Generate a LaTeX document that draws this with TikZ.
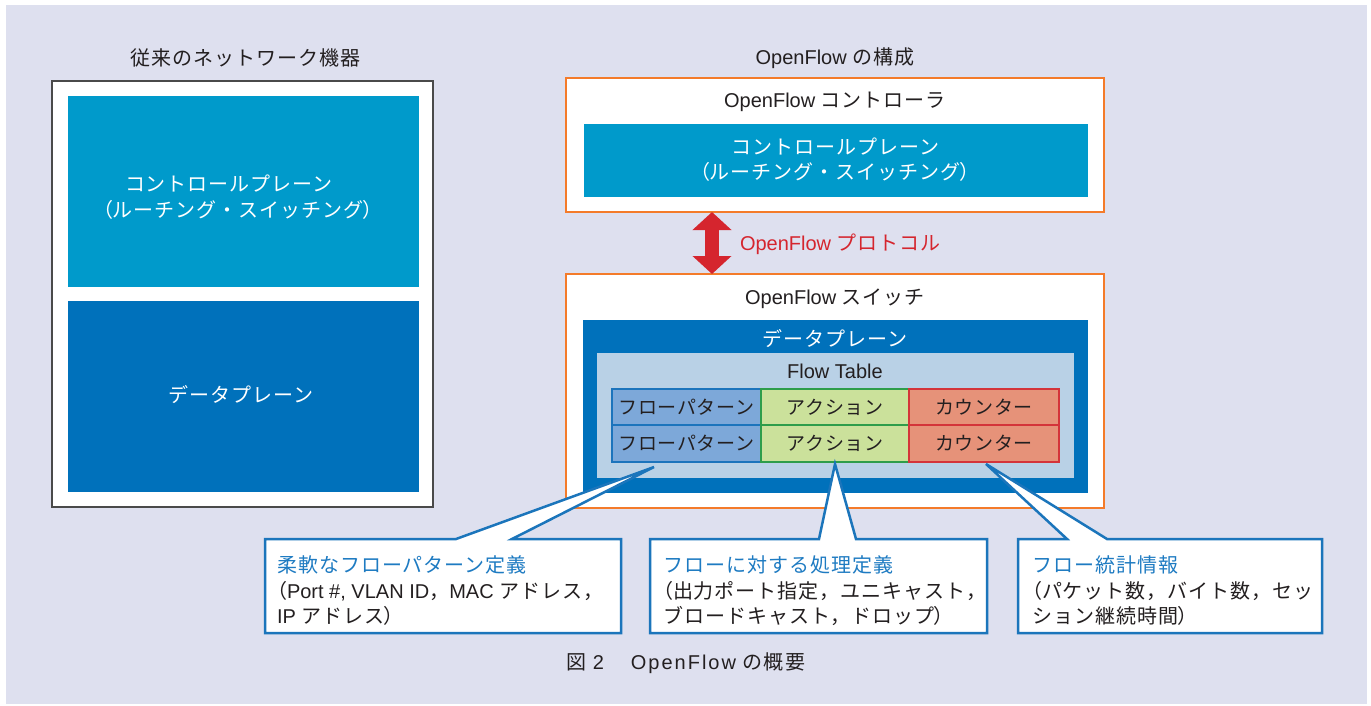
\documentclass[tikz,border=0pt]{standalone}
\usepackage{fontspec}
\setmainfont{Liberation Sans}
\newfontfamily\jfont[LetterSpace=5]{Noto Sans CJK JP}
\newcommand\jlp{{\jfont\addfontfeature{RawFeature=+palt}（}}
\newcommand\jrp{{\jfont\addfontfeature{RawFeature=+palt}）}}
\usetikzlibrary{arrows.meta,calc}
\definecolor{bglav}{HTML}{DEE0EF}
\definecolor{cyanp}{HTML}{009ACB}
\definecolor{darkp}{HTML}{0071BB}
\definecolor{lightp}{HTML}{B9D1E6}
\definecolor{patfill}{HTML}{7DA8D9}
\definecolor{patline}{HTML}{1C74BC}
\definecolor{actfill}{HTML}{CBE19B}
\definecolor{actline}{HTML}{2E9D4A}
\definecolor{cntfill}{HTML}{E69279}
\definecolor{cntline}{HTML}{D4343A}
\definecolor{orangeb}{HTML}{F47B2A}
\definecolor{redarrow}{HTML}{D5252E}
\definecolor{callb}{HTML}{1B75BB}
\definecolor{calltitle}{HTML}{1E7BC2}
\definecolor{txt}{HTML}{231F20}
\definecolor{grayb}{HTML}{4A4A4A}
\tikzset{
  plainbox/.style={anchor=north west, inner sep=0pt, outer sep=0pt},
  labeltext/.style={inner sep=0pt, outer sep=0pt, text=txt, font=\fontsize{20}{26}\selectfont, align=center},
  whitetext/.style={labeltext, text=white},
  orangebox/.style={plainbox, fill=white, draw=orangeb, line width=2.5pt},
  cellbase/.style={plainbox, line width=1.2pt, text=txt, font=\jfont\addfontfeature{LetterSpace=3}\fontsize{19}{22}\selectfont},
  cellp/.style={cellbase, fill=patfill, draw=patline, minimum width=149pt},
  cella/.style={cellbase, fill=actfill, draw=actline, minimum width=148pt},
  cellc/.style={cellbase, fill=cntfill, draw=cntline, minimum width=150pt},
  callout/.style={fill=white, draw=callb, line width=2.5pt, line join=miter},
  calltext/.style={anchor=west, inner sep=0pt, outer sep=0pt, text=txt, align=left, font=\fontsize{20}{25.5}\selectfont},
  bigarrow/.style={draw=redarrow, line width=14pt, {Triangle[width=38pt,length=18pt]}-{Triangle[width=38pt,length=18pt]}},
}
\begin{document}
\begin{tikzpicture}[x=1pt,y=-1pt]
\useasboundingbox (0,0) rectangle (1371,705);
\fill[white] (0,0) rectangle (1371,705);
\fill[bglav] (6,5) rectangle (1367,704);

% ---------- left: conventional device ----------
\node[labeltext] (ltitle) at (245,58) {\jfont 従来のネットワーク機器};
\node[plainbox, fill=white, draw=grayb, line width=1.3pt, minimum width=381pt, minimum height=426pt] (lbox) at (52,81) {};
\node[plainbox, fill=cyanp, minimum width=351pt, minimum height=191pt] (lcp) at (68,96) {};
\node[whitetext] (lcpt) at (238,197) {{\jfont コントロールプレーン}\kern18pt\\\jlp{\jfont ルーチング・スイッチング}\jrp};
\node[plainbox, fill=darkp, minimum width=351pt, minimum height=191pt] (ldp) at (68,301) {};
\node[whitetext] (ldpt) at (241,395) {\jfont データプレーン};

% ---------- right: OpenFlow ----------
\node[labeltext] (rtitle) at (835,58) {OpenFlow {\jfont の構成}};
\node[orangebox, minimum width=538pt, minimum height=134pt] (ctrl) at (566,78) {};
\node[labeltext] (ctrlt) at (835,102) {OpenFlow {\jfont コントローラ}};
\node[plainbox, fill=cyanp, minimum width=504pt, minimum height=73pt] (ccp) at (584,124) {};
\node[whitetext, font=\fontsize{20}{25}\selectfont] (ccpt) at (835,160) {{\jfont コントロールプレーン}\\\jlp{\jfont ルーチング・スイッチング}\jrp};

\node[orangebox, minimum width=538pt, minimum height=234pt] (sw) at (566,274) {};
\node[labeltext] (swt) at (835,299) {OpenFlow {\jfont スイッチ}};
\node[plainbox, fill=darkp, minimum width=505pt, minimum height=173pt] (sdp) at (583,320) {};
\node[whitetext] (sdpt) at (835,339) {\jfont データプレーン};
\node[plainbox, fill=lightp, minimum width=477pt, minimum height=125pt] (ft) at (597,353) {};
\node[labeltext] (ftt) at (835,371) {Flow Table};

\node[cellp, minimum height=36pt] (p1) at (612,389) {フローパターン};
\node[cella, minimum height=36pt] (a1) at (761,389) {アクション};
\node[cellc, minimum height=36pt] (k1) at (909,389) {カウンター};
\node[cellp, minimum height=37pt] (p2) at (612,425) {フローパターン};
\node[cella, minimum height=37pt] (a2) at (761,425) {アクション};
\node[cellc, minimum height=37pt] (k2) at (909,425) {カウンター};

% protocol arrow
\coordinate (ax) at (712,0);
\draw[bigarrow] (ctrl.south -| ax) -- (sw.north -| ax);
\node[labeltext, anchor=west, text=redarrow] (proto) at (740,244) {OpenFlow {\jfont プロトコル}};

% ---------- callouts ----------
\coordinate (t1) at (654,467);
\coordinate (t2) at (835,464);
\coordinate (t3) at (986,464);
\filldraw[callout] (265,539) -- (456,539) -- (t1) -- (512,539) -- (621,539) -- (621,633) -- (265,633) -- cycle;
\filldraw[callout] (650,539) -- (819,539) -- (t2) -- (856,539) -- (987,539) -- (987,633) -- (650,633) -- cycle;
\filldraw[callout] (1018,539) -- (1067,539) -- (t3) -- (1107,539) -- (1322,539) -- (1322,633) -- (1018,633) -- cycle;

\node[calltext] (c1) at (277,591) {{\color{calltitle}\jfont 柔軟なフローパターン定義}\\\jlp Port \#, VLAN ID{\jfont ，}MAC {\jfont アドレス，}\\IP {\jfont アドレス}\jrp};
\node[calltext] (c2) at (663,591) {{\color{calltitle}\jfont フローに対する処理定義}\\\jlp{\jfont 出力ポート指定，ユニキャスト，}\\{\jfont ブロードキャスト，ドロップ}\jrp};
\node[calltext] (c3) at (1032,591) {{\color{calltitle}\jfont フロー統計情報}\\\jlp{\jfont パケット数，バイト数，セッ}\\{\jfont ション継続時間}\jrp};

% caption
\node[labeltext] (cap) at (686,663) {{\jfont\addfontfeature{LetterSpace=8}図}\hspace{6pt}2\hspace{27pt}{\addfontfeature{LetterSpace=10}OpenFlow}\hspace{6pt}{\jfont\addfontfeature{LetterSpace=8}の概要}};
\end{tikzpicture}
\end{document}
